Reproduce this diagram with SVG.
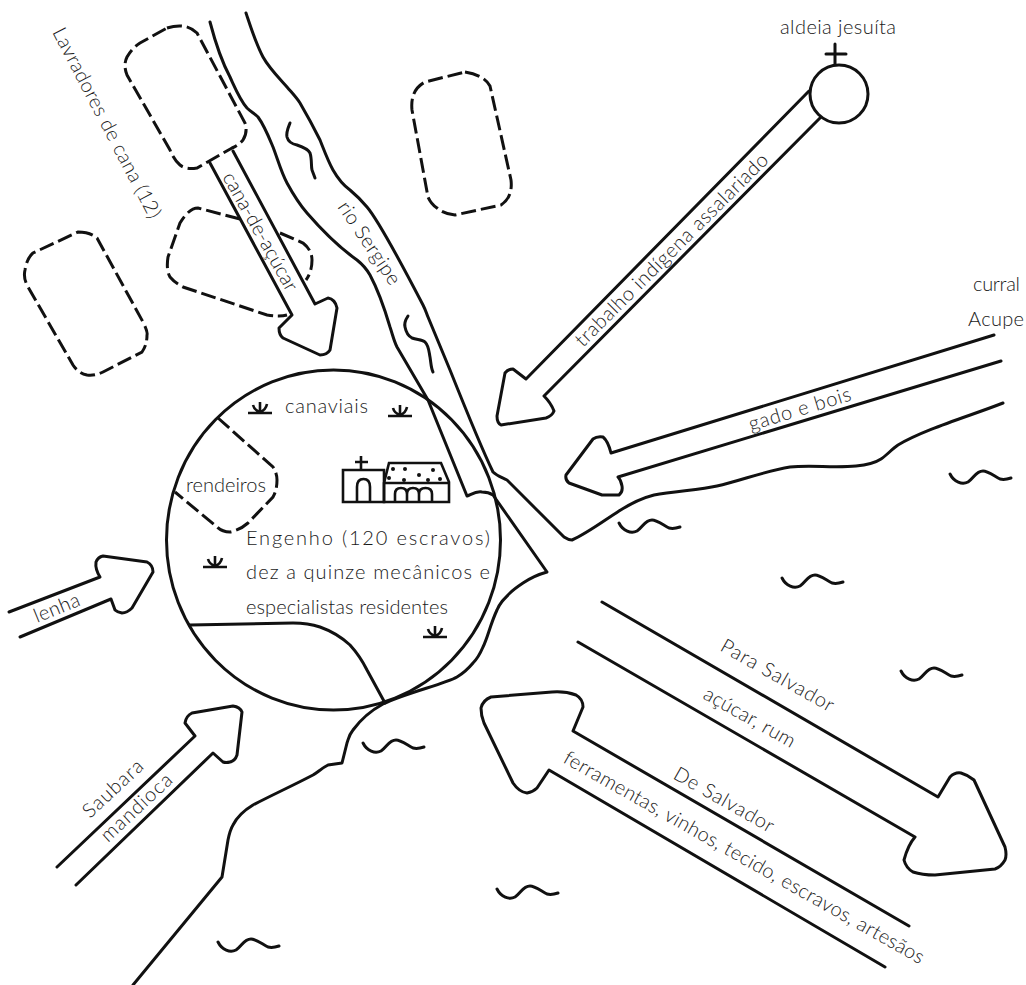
<svg xmlns="http://www.w3.org/2000/svg" width="1026" height="985" viewBox="0 0 1026 985">
<style>
.l{fill:none;stroke:#111;stroke-width:3;stroke-linecap:round;stroke-linejoin:round}
.d{fill:none;stroke:#111;stroke-width:3;stroke-dasharray:15 5}
.t{font-family:"Lato","Noto Sans",sans-serif;font-weight:300;font-size:20px;fill:#1a1a1a}
.i{fill:none;stroke:#111;stroke-width:2.6}
</style>
<defs>
<path id="w" class="l" d="M0,0 C4,8 12,11 18,8 C24,4 26,-3 33,-3 C38,-3 44,2 50,5 C54,6 58,5 61,4"/>
<g id="g"><path class="i" d="M-12,0 H12 M0,-1 V-11 M-7,-8 C-6,-4 -3,-2 0,-1 C3,-2 6,-4 7,-9"/></g>
</defs>
<g id="river" class="connectors">
<path class="l" d="M210,22 C216,45 222,62 230,77 C236,90 240,100 247,108 C251,112 254,113 258,117 C264,125 268,135 273,147 C278,160 281,172 287,183 C293,194 300,205 307,213 C320,228 340,248 357,260 C362,264 366,268 370,275 C378,290 385,310 390,327 C393,336 394,341 397,347 L428,400 L467,496 C472,494 476,491 482,492 C486,492 490,493 493,495 L547,572 C536,575 529,579 523,583 C517,587 514,589 510,593 C503,600 500,603 497,610 C490,625 488,637 483,647 C480,654 477,659 473,663 C468,669 462,674 457,677 C445,684 405,693 383,704 C372,710 361,719 353,730 C349,735 349,737 347,743 L342,763 L328,765 C322,768 318,772 313,775 C294,785 270,796 253,805 C243,811 237,817 233,825 C230,830 229,835 228,840 L222,877 L133,985"/>
<path class="l" d="M246,13 C251,28 256,44 263,57 C269,68 279,78 287,87 C293,94 296,97 300,103 C307,115 314,128 320,140 C324,150 328,161 333,170 C337,177 343,185 350,190 C356,195 362,201 367,207 C378,220 410,280 423,305 C426,311 426,312 428,317 L450,370 C462,400 480,445 493,472 C497,476 501,477 507,480 C517,490 550,523 564,537 C567,539 569,540 572,540 C586,534 602,522 619,511 C630,504 642,498 654,495 C675,491 700,490 717,486 C740,481 765,471 790,467 C810,465 835,468 856,466 C867,465 875,463 881,459 C887,455 892,449 898,445 C925,429 970,416 1003,403"/>
<path class="l" d="M290,123 C288,128 286,132 287,137 C288,141 292,144 297,145 C303,147 308,149 310,153 C312,159 311,166 312,170 L315,178"/>
<path class="l" d="M408,316 C406,319 404,323 405,327 C406,332 408,336 412,338 C417,340 422,339 425,342 C429,346 429,352 430,357 C431,363 431,368 433,372"/>
</g>
<g id="waves">
<use href="#w" x="950" y="474"/><use href="#w" x="619" y="523"/><use href="#w" x="782" y="578"/><use href="#w" x="901" y="671"/><use href="#w" x="363" y="743"/><use href="#w" x="497" y="889"/><use href="#w" x="218" y="942"/>
</g>
<g id="lavradores">
<path class="d" d="M167,28 Q186,22 197,33 L245,123 Q248,132 243,140 Q239,145 232,148 L197,168 Q186,170 180,165 Q174,160 170,150 L127,75 Q123,65 127,57 Q132,48 140,43 Z"/>
<path class="d" d="M465,72 Q484,75 490,86 L511,180 Q513,197 501,205 L455,215 Q444,214 437,208 Q431,204 428,197 L412,110 Q410,90 425,82 Z"/>
<path class="d" d="M78,232 Q90,232 97,238 L143,322 Q148,332 147,335 Q147,345 142,352 L103,372 Q95,376 87,375 Q78,373 73,365 L28,287 Q23,278 25,270 Q27,258 33,253 Z"/>
<path class="d" d="M240,219 L198,208 Q189,208 180,223 L168,257 Q166,270 170,277 Q175,283 183,287 L267,315 Q280,317 287,315 M280,233 L303,243 Q312,250 312,260 Q312,272 306,280"/>
</g>
<g id="flows">
<path class="l" d="M210,163 L292,315 L279,328 Q279,335 283,338 L320,355 Q327,355 330,350 L337,308 Q335,299 328,298 L315,304 L233,151"/>
<path class="l" d="M809,91 L526,379 L513,369 Q508,369 505,373 L497,416 Q497,423 501,425 L546,418 Q552,416 554,411 Q551,403 544,396 L820,118"/>
<path class="l" d="M994,335 L611,453 Q608,441 603,437 Q597,436 593,439 L566,475 Q565,480 569,483 L602,495 L619,495 Q623,492 622,486 Q621,480 618,477 L1001,361"/>
<path class="l" d="M9,612 L100,577 Q95,569 96,562 Q98,557 103,556 L147,562 Q153,565 153,572 L132,608 Q127,613 122,613 Q117,612 115,610 L111,599 L20,637"/>
<path class="l" d="M57,867 L195,736 L185,723 Q186,716 192,713 L233,706 Q240,707 242,712 L237,755 Q235,761 230,762 Q226,763 223,762 L213,753 L76,885"/>
<path class="l" d="M602,602 L938,797 L950,777 Q955,772 961,773 Q968,775 974,780 L1005,847 Q1007,855 1005,860 Q1001,867 995,869 L935,875 Q922,875 913,872 Q906,868 904,860 Q908,845 915,837 L578,642"/>
<path class="l" d="M909,926 L573,731 L583,707 Q583,699 576,695 Q565,691 552,692 L491,697 Q483,700 481,708 Q481,716 484,723 L513,783 Q519,792 527,793 Q533,792 537,788 L549,770 L885,967"/>
</g>
<g id="aldeia"><circle class="l" cx="839" cy="94" r="29"/><path class="l" d="M835,44 V64 M826,54 H846"/>
<text class="t" x="780" y="34" textLength="116">aldeia jesuíta</text></g>
<g id="engenho">
<ellipse class="l" cx="333.500" cy="540" rx="167" ry="170"/>
<path class="d" d="M218,418 L273,467 Q277,473 277,480 Q277,490 273,497 L248,523 Q240,530 230,532 Q222,532 217,527 L175,492"/>
<path class="l" d="M190,625 L293,623 Q308,623 320,627 Q337,633 350,645 Q360,656 367,670 L385,703"/>
<use href="#g" x="260" y="413"/><use href="#g" x="400" y="416"/><use href="#g" x="215" y="567"/><use href="#g" x="435" y="637"/>
<g class="i">
<path d="M343,502 V470 H384 V502 Z M361,470 V456 M355,462 H368 M357,502 V487 Q357,479 363.500,479 Q370,479 370,487 V502"/>
<path d="M384,502 V483 L389,463 H441 L449,482 V502 Z M384,483 H449 M395,502 V494 Q395,488 401,488 Q407,488 407,494 V502 M407,494 Q407,488 413,488 Q419,488 419,494 V502 M419,494 Q419,488 425.500,488 Q432,488 432,494 V502"/>
</g>
<g fill="#111"><circle cx="393" cy="469" r="2"/><circle cx="405" cy="469" r="2"/><circle cx="419" cy="475" r="2"/><circle cx="433" cy="470" r="2"/><circle cx="389" cy="478" r="2"/><circle cx="404" cy="480" r="2"/><circle cx="428" cy="480" r="2"/><circle cx="440" cy="479" r="2"/></g>
<text class="t" x="285" y="413" textLength="83">canaviais</text>
<text class="t" x="186" y="492" textLength="80">rendeiros</text>
<text class="t" x="246" y="545" textLength="244">Engenho (120 escravos)</text>
<text class="t" x="246" y="579" textLength="244">dez a quinze mecânicos e</text>
<text class="t" x="246" y="614" textLength="202">especialistas residentes</text>
</g>
<g id="labels">
<text class="t" x="973" y="291" textLength="47">curral</text>
<text class="t" x="968" y="326" textLength="56">Acupe</text>
<text class="t" transform="translate(52,32) rotate(62.500)" textLength="212">Lavradores de cana (12)</text>
<text class="t" transform="translate(222,177) rotate(60.700)" textLength="133">cana-de-açúcar</text>
<text class="t" transform="translate(337,207) rotate(56)" textLength="96">rio Sergipe</text>
<text class="t" transform="translate(583,348) rotate(-45)" textLength="264">trabalho indígena assalariado</text>
<text class="t" transform="translate(751,431) rotate(-17)" textLength="106">gado e bois</text>
<text class="t" transform="translate(37,623) rotate(-22)" textLength="48">lenha</text>
<text class="t" transform="translate(90,819) rotate(-43)" textLength="75">Saubara</text>
<text class="t" transform="translate(108,843) rotate(-43)" textLength="90">mandioca</text>
<text class="t" transform="translate(719,650) rotate(29.500)" textLength="127">Para Salvador</text>
<text class="t" transform="translate(702,698) rotate(29.500)" textLength="102">açúcar, rum</text>
<text class="t" transform="translate(672,778) rotate(29.500)" textLength="112">De Salvador</text>
<text class="t" transform="translate(562,762) rotate(29.500)" textLength="411">ferramentas, vinhos, tecido, escravos, artesãos</text>
</g>
</svg>
